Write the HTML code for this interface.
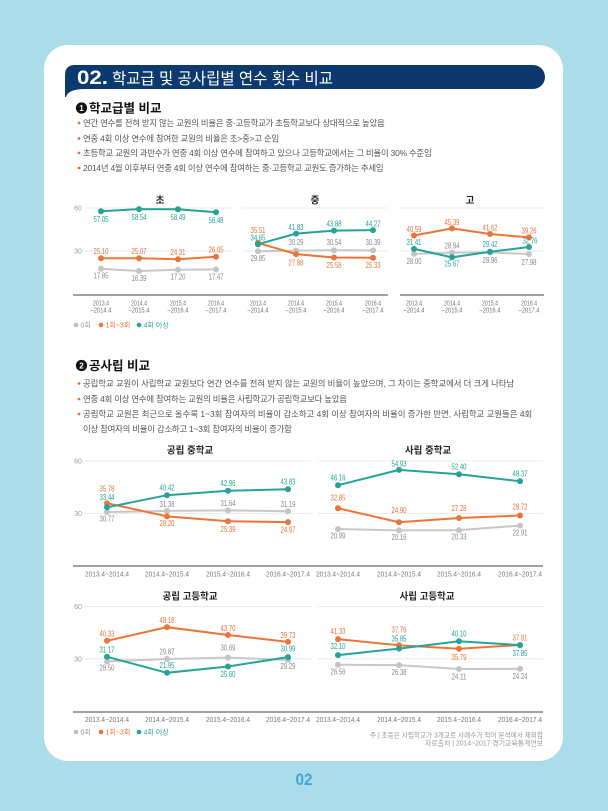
<!DOCTYPE html>
<html><head><meta charset="utf-8">
<style>
html,body{margin:0;padding:0;background:#ABDCEA;}
svg{display:block;}
text{font-family:"Liberation Sans","Noto Sans CJK KR",sans-serif;}
.lb{font-size:8px;text-anchor:middle;}
.t{fill:#26A398;}
.o{fill:#E8743B;}
.g{fill:#8a8a8a;}
.tk{font-size:7px;fill:#777;text-anchor:middle;}
.ax{font-size:7px;fill:#999;text-anchor:middle;}
.bl{font-size:8.4px;fill:#555;letter-spacing:-0.2px;}
.ct{font-size:9.5px;font-weight:bold;fill:#222;text-anchor:middle;}
.grid{stroke:#e6e6e6;stroke-width:0.8;}
.base{stroke:#6a6a6a;stroke-width:1.2;}
.lt{fill:none;stroke:#26A398;stroke-width:2;}
.lo{fill:none;stroke:#ED7437;stroke-width:2;}
.lg{fill:none;stroke:#C8C8C8;stroke-width:2;}
.dt{fill:#26A398;}
.do{fill:#ED7437;}
.dg{fill:#C4C4C4;}
</style></head>
<body>
<svg width="608" height="811" viewBox="0 0 608 811" xmlns="http://www.w3.org/2000/svg">
<rect x="0" y="0" width="608" height="811" fill="#ABDCEA"/>
<rect x="44" y="45" width="519" height="716" rx="24" ry="24" fill="#ffffff"/>

<!-- Title bar -->
<path d="M75,65 H533 A12,12 0 0 1 533,89 H85 Q68,89 66,97 L65,97 V75 Q65,65 75,65 Z" fill="#0C3A6E"/>
<text x="77" y="84" font-size="19" font-weight="bold" fill="#fff" textLength="31" lengthAdjust="spacingAndGlyphs">02.</text>
<text x="112" y="84" font-size="16" fill="#fff" textLength="221" lengthAdjust="spacingAndGlyphs">학교급 및 공사립별 연수 횟수 비교</text>

<!-- Section 1 heading -->
<circle cx="81.5" cy="108" r="5.6" fill="#111"/>
<text x="81.5" y="111" font-size="8" font-weight="bold" fill="#fff" text-anchor="middle">1</text>
<text x="89" y="112.5" font-size="12.5" font-weight="bold" fill="#111">학교급별 비교</text>

<circle cx="79" cy="123" r="1.4" fill="#E8743B"/>
<text class="bl" x="83" y="126">연간 연수를 전혀 받지 않는 교원의 비율은 중·고등학교가 초등학교보다 상대적으로 높았음</text>
<circle cx="79" cy="138.5" r="1.4" fill="#E8743B"/>
<text class="bl" x="83" y="141.5">연중 4회 이상 연수에 참여한 교원의 비율은 초&gt;중&gt;고 순임</text>
<circle cx="79" cy="153" r="1.4" fill="#E8743B"/>
<text class="bl" x="83" y="156">초등학교 교원의 과반수가 연중 4회 이상 연수에 참여하고 있으나 고등학교에서는 그 비율이 30% 수준임</text>
<circle cx="79" cy="168" r="1.4" fill="#E8743B"/>
<text class="bl" x="83" y="171">2014년 4월 이후부터 연중 4회 이상 연수에 참여하는 중·고등학교 교원도 증가하는 추세임</text>

<!-- Section 1 charts -->
<text class="ct" x="160" y="203.5">초</text>
<text class="ct" x="315" y="203.5">중</text>
<text class="ct" x="470" y="203.5">고</text>

<line class="grid" x1="85" y1="208" x2="232" y2="208"/>
<line class="grid" x1="85" y1="251" x2="232" y2="251"/>
<line class="grid" x1="243" y1="208" x2="388" y2="208"/>
<line class="grid" x1="243" y1="251" x2="388" y2="251"/>
<line class="grid" x1="400" y1="208" x2="544" y2="208"/>
<line class="grid" x1="400" y1="251" x2="544" y2="251"/>
<text class="ax" x="78" y="210.5">60</text>
<text class="ax" x="78" y="253.5">30</text>
<line class="base" x1="73" y1="295" x2="388" y2="295"/>
<line class="base" x1="400" y1="295" x2="544" y2="295"/>

<!-- P1 -->
<polyline class="lg" points="101,268.8 139,271.0 178,269.8 216,269.4"/>
<polyline class="lo" points="101,258.2 139,258.2 178,259.3 216,256.8"/>
<polyline class="lt" points="101,211.3 139,209.1 178,209.2 216,212.2"/>
<g class="dg"><circle cx="101" cy="268.8" r="3"/><circle cx="139" cy="271.0" r="3"/><circle cx="178" cy="269.8" r="3"/><circle cx="216" cy="269.4" r="3"/></g>
<g class="do"><circle cx="101" cy="258.2" r="3"/><circle cx="139" cy="258.2" r="3"/><circle cx="178" cy="259.3" r="3"/><circle cx="216" cy="256.8" r="3"/></g>
<g class="dt"><circle cx="101" cy="211.3" r="3"/><circle cx="139" cy="209.1" r="3"/><circle cx="178" cy="209.2" r="3"/><circle cx="216" cy="212.2" r="3"/></g>
<text class="lb t" x="101" y="222.2" textLength="15" lengthAdjust="spacingAndGlyphs">57.05</text>
<text class="lb t" x="139" y="220.0" textLength="15" lengthAdjust="spacingAndGlyphs">58.54</text>
<text class="lb t" x="178" y="220.1" textLength="15" lengthAdjust="spacingAndGlyphs">58.49</text>
<text class="lb t" x="216" y="223.1" textLength="15" lengthAdjust="spacingAndGlyphs">56.48</text>
<text class="lb o" x="101" y="254.1" textLength="15" lengthAdjust="spacingAndGlyphs">25.10</text>
<text class="lb o" x="139" y="254.1" textLength="15" lengthAdjust="spacingAndGlyphs">25.07</text>
<text class="lb o" x="178" y="255.2" textLength="15" lengthAdjust="spacingAndGlyphs">24.31</text>
<text class="lb o" x="216" y="252.7" textLength="15" lengthAdjust="spacingAndGlyphs">26.05</text>
<text class="lb g" x="101" y="278.7" textLength="15" lengthAdjust="spacingAndGlyphs">17.85</text>
<text class="lb g" x="139" y="280.9" textLength="15" lengthAdjust="spacingAndGlyphs">16.39</text>
<text class="lb g" x="178" y="279.7" textLength="15" lengthAdjust="spacingAndGlyphs">17.20</text>
<text class="lb g" x="216" y="279.3" textLength="15" lengthAdjust="spacingAndGlyphs">17.47</text>

<!-- P2 -->
<polyline class="lg" points="258,251.2 296,250.6 334,250.2 373,250.4"/>
<polyline class="lo" points="258,242.9 296,254.1 334,257.5 373,257.8"/>
<polyline class="lt" points="258,244.2 296,233.6 334,230.6 373,230.1"/>
<g class="dg"><circle cx="258" cy="251.2" r="3"/><circle cx="296" cy="250.6" r="3"/><circle cx="334" cy="250.2" r="3"/><circle cx="373" cy="250.4" r="3"/></g>
<g class="do"><circle cx="258" cy="242.9" r="3"/><circle cx="296" cy="254.1" r="3"/><circle cx="334" cy="257.5" r="3"/><circle cx="373" cy="257.8" r="3"/></g>
<g class="dt"><circle cx="258" cy="244.2" r="3"/><circle cx="296" cy="233.6" r="3"/><circle cx="334" cy="230.6" r="3"/><circle cx="373" cy="230.1" r="3"/></g>
<text class="lb o" x="258" y="232.9" textLength="15" lengthAdjust="spacingAndGlyphs">35.51</text>
<text class="lb t" x="258" y="240.4" textLength="15" lengthAdjust="spacingAndGlyphs">34.65</text>
<text class="lb g" x="258" y="260.9" textLength="15" lengthAdjust="spacingAndGlyphs">29.85</text>
<text class="lb t" x="296" y="229.9" textLength="15" lengthAdjust="spacingAndGlyphs">41.83</text>
<text class="lb g" x="296" y="244.9" textLength="15" lengthAdjust="spacingAndGlyphs">30.29</text>
<text class="lb o" x="296" y="265.4" textLength="15" lengthAdjust="spacingAndGlyphs">27.88</text>
<text class="lb t" x="334" y="226.4" textLength="15" lengthAdjust="spacingAndGlyphs">43.88</text>
<text class="lb g" x="334" y="244.9" textLength="15" lengthAdjust="spacingAndGlyphs">30.54</text>
<text class="lb o" x="334" y="267.9" textLength="15" lengthAdjust="spacingAndGlyphs">25.58</text>
<text class="lb t" x="373" y="226.4" textLength="15" lengthAdjust="spacingAndGlyphs">44.27</text>
<text class="lb g" x="373" y="244.9" textLength="15" lengthAdjust="spacingAndGlyphs">30.39</text>
<text class="lb o" x="373" y="267.9" textLength="15" lengthAdjust="spacingAndGlyphs">25.33</text>

<!-- P3 -->
<polyline class="lg" points="414,253.9 452,252.6 490,252.5 529,254.0"/>
<polyline class="lo" points="414,235.5 452,228.4 490,234.0 529,237.4"/>
<polyline class="lt" points="414,248.9 452,257.3 490,251.8 529,247.0"/>
<g class="dg"><circle cx="414" cy="253.9" r="3"/><circle cx="452" cy="252.6" r="3"/><circle cx="490" cy="252.5" r="3"/><circle cx="529" cy="254.0" r="3"/></g>
<g class="do"><circle cx="414" cy="235.5" r="3"/><circle cx="452" cy="228.4" r="3"/><circle cx="490" cy="234.0" r="3"/><circle cx="529" cy="237.4" r="3"/></g>
<g class="dt"><circle cx="414" cy="248.9" r="3"/><circle cx="452" cy="257.3" r="3"/><circle cx="490" cy="251.8" r="3"/><circle cx="529" cy="247.0" r="3"/></g>
<text class="lb o" x="414" y="231.9" textLength="15" lengthAdjust="spacingAndGlyphs">40.59</text>
<text class="lb o" x="452" y="224.8" textLength="15" lengthAdjust="spacingAndGlyphs">45.39</text>
<text class="lb o" x="490" y="230.4" textLength="15" lengthAdjust="spacingAndGlyphs">41.62</text>
<text class="lb o" x="529" y="233.3" textLength="15" lengthAdjust="spacingAndGlyphs">39.26</text>
<text class="lb t" x="414" y="244.9" textLength="15" lengthAdjust="spacingAndGlyphs">31.41</text>
<text class="lb g" x="414" y="263.9" textLength="15" lengthAdjust="spacingAndGlyphs">28.00</text>
<text class="lb g" x="452" y="248.4" textLength="15" lengthAdjust="spacingAndGlyphs">28.94</text>
<text class="lb t" x="452" y="266.4" textLength="15" lengthAdjust="spacingAndGlyphs">25.67</text>
<text class="lb t" x="490" y="246.9" textLength="15" lengthAdjust="spacingAndGlyphs">29.42</text>
<text class="lb g" x="490" y="262.9" textLength="15" lengthAdjust="spacingAndGlyphs">28.96</text>
<text class="lb t" x="530" y="243.4" textLength="15" lengthAdjust="spacingAndGlyphs">32.76</text>
<text class="lb g" x="529" y="264.9" textLength="15" lengthAdjust="spacingAndGlyphs">27.98</text>

<!-- Section 1 ticks -->
<g class="tk">
<text x="101" y="305.5" textLength="16" lengthAdjust="spacingAndGlyphs">2013.4</text><text x="101" y="312.5" textLength="21" lengthAdjust="spacingAndGlyphs">–2014.4</text>
<text x="139" y="305.5" textLength="16" lengthAdjust="spacingAndGlyphs">2014.4</text><text x="139" y="312.5" textLength="21" lengthAdjust="spacingAndGlyphs">–2015.4</text>
<text x="178" y="305.5" textLength="16" lengthAdjust="spacingAndGlyphs">2015.4</text><text x="178" y="312.5" textLength="21" lengthAdjust="spacingAndGlyphs">–2016.4</text>
<text x="216" y="305.5" textLength="16" lengthAdjust="spacingAndGlyphs">2016.4</text><text x="216" y="312.5" textLength="21" lengthAdjust="spacingAndGlyphs">–2017.4</text>
<text x="258" y="305.5" textLength="16" lengthAdjust="spacingAndGlyphs">2013.4</text><text x="258" y="312.5" textLength="21" lengthAdjust="spacingAndGlyphs">–2014.4</text>
<text x="296" y="305.5" textLength="16" lengthAdjust="spacingAndGlyphs">2014.4</text><text x="296" y="312.5" textLength="21" lengthAdjust="spacingAndGlyphs">–2015.4</text>
<text x="334" y="305.5" textLength="16" lengthAdjust="spacingAndGlyphs">2015.4</text><text x="334" y="312.5" textLength="21" lengthAdjust="spacingAndGlyphs">–2016.4</text>
<text x="373" y="305.5" textLength="16" lengthAdjust="spacingAndGlyphs">2016.4</text><text x="373" y="312.5" textLength="21" lengthAdjust="spacingAndGlyphs">–2017.4</text>
<text x="414" y="305.5" textLength="16" lengthAdjust="spacingAndGlyphs">2013.4</text><text x="414" y="312.5" textLength="21" lengthAdjust="spacingAndGlyphs">–2014.4</text>
<text x="452" y="305.5" textLength="16" lengthAdjust="spacingAndGlyphs">2014.4</text><text x="452" y="312.5" textLength="21" lengthAdjust="spacingAndGlyphs">–2015.4</text>
<text x="490" y="305.5" textLength="16" lengthAdjust="spacingAndGlyphs">2015.4</text><text x="490" y="312.5" textLength="21" lengthAdjust="spacingAndGlyphs">–2016.4</text>
<text x="529" y="305.5" textLength="16" lengthAdjust="spacingAndGlyphs">2016.4</text><text x="529" y="312.5" textLength="21" lengthAdjust="spacingAndGlyphs">–2017.4</text>
</g>

<!-- Legend 1 -->
<circle cx="76" cy="325" r="2.3" fill="#bdbdbd"/>
<text x="80.5" y="327.5" font-size="7" fill="#999">0회</text>
<circle cx="101" cy="325" r="2.3" fill="#ED7437"/>
<text x="105.5" y="327.5" font-size="7" fill="#E8743B">1회~3회</text>
<circle cx="139" cy="325" r="2.3" fill="#26A398"/>
<text x="143.5" y="327.5" font-size="7" fill="#26A398">4회 이상</text>

<!-- Section 2 heading -->
<circle cx="81.5" cy="365.5" r="5.6" fill="#111"/>
<text x="81.5" y="368.5" font-size="8" font-weight="bold" fill="#fff" text-anchor="middle">2</text>
<text x="89" y="370" font-size="12.5" font-weight="bold" fill="#111">공사립 비교</text>

<circle cx="79" cy="383.5" r="1.4" fill="#E8743B"/>
<text class="bl" x="83" y="386.5" textLength="431" lengthAdjust="spacing">공립학교 교원이 사립학교 교원보다 연간 연수를 전혀 받지 않는 교원의 비율이 높았으며, 그 차이는 중학교에서 더 크게 나타남</text>
<circle cx="79" cy="399" r="1.4" fill="#E8743B"/>
<text class="bl" x="83" y="402">연중 4회 이상 연수에 참여하는 교원의 비율은 사립학교가 공립학교보다 높았음</text>
<circle cx="79" cy="414" r="1.4" fill="#E8743B"/>
<text class="bl" x="83" y="417" textLength="449" lengthAdjust="spacing">공립학교 교원은 최근으로 올수록 1~3회 참여자의 비율이 감소하고 4회 이상 참여자의 비율이 증가한 반면, 사립학교 교원들은 4회</text>
<text class="bl" x="83" y="432">이상 참여자의 비율이 감소하고 1~3회 참여자의 비율이 증가함</text>

<!-- Section 2 top row -->
<text class="ct" x="190" y="453.5">공립 중학교</text>
<text class="ct" x="428" y="453.5">사립 중학교</text>
<line class="grid" x1="85" y1="461" x2="311" y2="461"/>
<line class="grid" x1="85" y1="513.3" x2="311" y2="513.3"/>
<line class="grid" x1="318" y1="461" x2="543" y2="461"/>
<line class="grid" x1="318" y1="513.3" x2="543" y2="513.3"/>
<text class="ax" x="78" y="463.5">60</text>
<text class="ax" x="78" y="515.8">30</text>
<line class="base" x1="73" y1="566" x2="543" y2="566"/>

<!-- TL -->
<polyline class="lg" points="107,512.0 167,510.9 228,510.4 288,511.2"/>
<polyline class="lo" points="107,503.2 167,516.4 228,521.3 288,522.1"/>
<polyline class="lt" points="107,507.3 167,495.2 228,490.8 288,489.2"/>
<g class="dg"><circle cx="107" cy="512.0" r="3"/><circle cx="167" cy="510.9" r="3"/><circle cx="228" cy="510.4" r="3"/><circle cx="288" cy="511.2" r="3"/></g>
<g class="do"><circle cx="107" cy="503.2" r="3"/><circle cx="167" cy="516.4" r="3"/><circle cx="228" cy="521.3" r="3"/><circle cx="288" cy="522.1" r="3"/></g>
<g class="dt"><circle cx="107" cy="507.3" r="3"/><circle cx="167" cy="495.2" r="3"/><circle cx="228" cy="490.8" r="3"/><circle cx="288" cy="489.2" r="3"/></g>
<text class="lb o" x="107" y="491.4" textLength="15" lengthAdjust="spacingAndGlyphs">35.78</text>
<text class="lb t" x="107" y="499.9" textLength="15" lengthAdjust="spacingAndGlyphs">33.44</text>
<text class="lb g" x="107" y="521.4" textLength="15" lengthAdjust="spacingAndGlyphs">30.77</text>
<text class="lb t" x="167" y="490.4" textLength="15" lengthAdjust="spacingAndGlyphs">40.42</text>
<text class="lb g" x="167" y="506.9" textLength="15" lengthAdjust="spacingAndGlyphs">31.38</text>
<text class="lb o" x="167" y="525.9" textLength="15" lengthAdjust="spacingAndGlyphs">28.20</text>
<text class="lb t" x="228" y="485.9" textLength="15" lengthAdjust="spacingAndGlyphs">42.96</text>
<text class="lb g" x="228" y="505.9" textLength="15" lengthAdjust="spacingAndGlyphs">31.64</text>
<text class="lb o" x="228" y="531.9" textLength="15" lengthAdjust="spacingAndGlyphs">25.39</text>
<text class="lb t" x="288" y="484.4" textLength="15" lengthAdjust="spacingAndGlyphs">43.83</text>
<text class="lb g" x="288" y="506.9" textLength="15" lengthAdjust="spacingAndGlyphs">31.19</text>
<text class="lb o" x="288" y="532.4" textLength="15" lengthAdjust="spacingAndGlyphs">24.97</text>

<!-- TR -->
<polyline class="lg" points="338,529.0 399,530.4 459,530.1 520,525.6"/>
<polyline class="lo" points="338,508.3 399,522.2 459,518.0 520,515.5"/>
<polyline class="lt" points="338,485.2 399,469.9 459,474.3 520,481.3"/>
<g class="dg"><circle cx="338" cy="529.0" r="3"/><circle cx="399" cy="530.4" r="3"/><circle cx="459" cy="530.1" r="3"/><circle cx="520" cy="525.6" r="3"/></g>
<g class="do"><circle cx="338" cy="508.3" r="3"/><circle cx="399" cy="522.2" r="3"/><circle cx="459" cy="518.0" r="3"/><circle cx="520" cy="515.5" r="3"/></g>
<g class="dt"><circle cx="338" cy="485.2" r="3"/><circle cx="399" cy="469.9" r="3"/><circle cx="459" cy="474.3" r="3"/><circle cx="520" cy="481.3" r="3"/></g>
<text class="lb t" x="338" y="480.4" textLength="15" lengthAdjust="spacingAndGlyphs">46.16</text>
<text class="lb t" x="399" y="466.4" textLength="15" lengthAdjust="spacingAndGlyphs">54.93</text>
<text class="lb t" x="459" y="469.6" textLength="15" lengthAdjust="spacingAndGlyphs">52.40</text>
<text class="lb t" x="520" y="476.4" textLength="15" lengthAdjust="spacingAndGlyphs">48.37</text>
<text class="lb o" x="338" y="500.4" textLength="15" lengthAdjust="spacingAndGlyphs">32.85</text>
<text class="lb o" x="399" y="512.9" textLength="15" lengthAdjust="spacingAndGlyphs">24.90</text>
<text class="lb o" x="459" y="510.9" textLength="15" lengthAdjust="spacingAndGlyphs">27.28</text>
<text class="lb o" x="520" y="509.4" textLength="15" lengthAdjust="spacingAndGlyphs">28.72</text>
<text class="lb g" x="338" y="538.4" textLength="15" lengthAdjust="spacingAndGlyphs">20.99</text>
<text class="lb g" x="399" y="539.9" textLength="15" lengthAdjust="spacingAndGlyphs">20.16</text>
<text class="lb g" x="459" y="539.6" textLength="15" lengthAdjust="spacingAndGlyphs">20.33</text>
<text class="lb g" x="520" y="535.4" textLength="15" lengthAdjust="spacingAndGlyphs">22.91</text>

<g class="tk">
<text x="107" y="576.5" textLength="44" lengthAdjust="spacingAndGlyphs">2013.4~2014.4</text>
<text x="167" y="576.5" textLength="44" lengthAdjust="spacingAndGlyphs">2014.4~2015.4</text>
<text x="228" y="576.5" textLength="44" lengthAdjust="spacingAndGlyphs">2015.4~2016.4</text>
<text x="288" y="576.5" textLength="44" lengthAdjust="spacingAndGlyphs">2016.4~2017.4</text>
<text x="338" y="576.5" textLength="44" lengthAdjust="spacingAndGlyphs">2013.4~2014.4</text>
<text x="399" y="576.5" textLength="44" lengthAdjust="spacingAndGlyphs">2014.4~2015.4</text>
<text x="459" y="576.5" textLength="44" lengthAdjust="spacingAndGlyphs">2015.4~2016.4</text>
<text x="520" y="576.5" textLength="44" lengthAdjust="spacingAndGlyphs">2016.4~2017.4</text>
</g>

<!-- Section 2 bottom row -->
<text class="ct" x="190" y="599.5">공립 고등학교</text>
<text class="ct" x="427" y="599.5">사립 고등학교</text>
<line class="grid" x1="85" y1="606.6" x2="311" y2="606.6"/>
<line class="grid" x1="85" y1="658.8" x2="311" y2="658.8"/>
<line class="grid" x1="318" y1="606.6" x2="543" y2="606.6"/>
<line class="grid" x1="318" y1="658.8" x2="543" y2="658.8"/>
<text class="ax" x="78" y="609">60</text>
<text class="ax" x="78" y="661.3">30</text>
<line class="base" x1="73" y1="712" x2="543" y2="712"/>

<!-- BL -->
<polyline class="lg" points="107,661.4 167,659.0 228,657.6 288,660.0"/>
<polyline class="lo" points="107,640.8 167,627.2 228,635.0 288,641.9"/>
<polyline class="lt" points="107,656.8 167,672.8 228,666.5 288,657.1"/>
<g class="dg"><circle cx="107" cy="661.4" r="3"/><circle cx="167" cy="659.0" r="3"/><circle cx="228" cy="657.6" r="3"/><circle cx="288" cy="660.0" r="3"/></g>
<g class="do"><circle cx="107" cy="640.8" r="3"/><circle cx="167" cy="627.2" r="3"/><circle cx="228" cy="635.0" r="3"/><circle cx="288" cy="641.9" r="3"/></g>
<g class="dt"><circle cx="107" cy="656.8" r="3"/><circle cx="167" cy="672.8" r="3"/><circle cx="228" cy="666.5" r="3"/><circle cx="288" cy="657.1" r="3"/></g>
<text class="lb o" x="107" y="636.7" textLength="15" lengthAdjust="spacingAndGlyphs">40.33</text>
<text class="lb o" x="167" y="623.1" textLength="15" lengthAdjust="spacingAndGlyphs">48.18</text>
<text class="lb o" x="228" y="630.9" textLength="15" lengthAdjust="spacingAndGlyphs">43.70</text>
<text class="lb o" x="288" y="637.8" textLength="15" lengthAdjust="spacingAndGlyphs">39.73</text>
<text class="lb t" x="107" y="652.4" textLength="15" lengthAdjust="spacingAndGlyphs">31.17</text>
<text class="lb t" x="167" y="667.9" textLength="15" lengthAdjust="spacingAndGlyphs">21.95</text>
<text class="lb t" x="228" y="676.9" textLength="15" lengthAdjust="spacingAndGlyphs">25.60</text>
<text class="lb t" x="288" y="651.4" textLength="15" lengthAdjust="spacingAndGlyphs">30.99</text>
<text class="lb g" x="107" y="670.4" textLength="15" lengthAdjust="spacingAndGlyphs">28.50</text>
<text class="lb g" x="167" y="654.4" textLength="15" lengthAdjust="spacingAndGlyphs">29.87</text>
<text class="lb g" x="228" y="650.4" textLength="15" lengthAdjust="spacingAndGlyphs">30.69</text>
<text class="lb g" x="288" y="668.9" textLength="15" lengthAdjust="spacingAndGlyphs">29.29</text>

<!-- BR -->
<polyline class="lg" points="338,664.8 399,665.1 459,669.0 520,668.8"/>
<polyline class="lo" points="338,639.1 399,645.3 459,648.7 520,645.0"/>
<polyline class="lt" points="338,655.1 399,648.6 459,641.2 520,645.1"/>
<g class="dg"><circle cx="338" cy="664.8" r="3"/><circle cx="399" cy="665.1" r="3"/><circle cx="459" cy="669.0" r="3"/><circle cx="520" cy="668.8" r="3"/></g>
<g class="do"><circle cx="338" cy="639.1" r="3"/><circle cx="399" cy="645.3" r="3"/><circle cx="459" cy="648.7" r="3"/><circle cx="520" cy="645.0" r="3"/></g>
<g class="dt"><circle cx="338" cy="655.1" r="3"/><circle cx="399" cy="648.6" r="3"/><circle cx="459" cy="641.2" r="3"/><circle cx="520" cy="645.1" r="3"/></g>
<text class="lb o" x="338" y="633.9" textLength="15" lengthAdjust="spacingAndGlyphs">41.33</text>
<text class="lb t" x="338" y="648.9" textLength="15" lengthAdjust="spacingAndGlyphs">32.10</text>
<text class="lb o" x="399" y="632.4" textLength="15" lengthAdjust="spacingAndGlyphs">37.76</text>
<text class="lb t" x="399" y="641.4" textLength="15" lengthAdjust="spacingAndGlyphs">35.85</text>
<text class="lb t" x="459" y="636.4" textLength="15" lengthAdjust="spacingAndGlyphs">40.10</text>
<text class="lb o" x="459" y="659.9" textLength="15" lengthAdjust="spacingAndGlyphs">35.79</text>
<text class="lb o" x="520" y="640.4" textLength="15" lengthAdjust="spacingAndGlyphs">37.91</text>
<text class="lb t" x="520" y="655.9" textLength="15" lengthAdjust="spacingAndGlyphs">37.85</text>
<text class="lb g" x="338" y="674.4" textLength="15" lengthAdjust="spacingAndGlyphs">26.56</text>
<text class="lb g" x="399" y="674.9" textLength="15" lengthAdjust="spacingAndGlyphs">26.38</text>
<text class="lb g" x="459" y="679.4" textLength="15" lengthAdjust="spacingAndGlyphs">24.11</text>
<text class="lb g" x="520" y="678.9" textLength="15" lengthAdjust="spacingAndGlyphs">24.24</text>

<g class="tk">
<text x="107" y="722" textLength="44" lengthAdjust="spacingAndGlyphs">2013.4~2014.4</text>
<text x="167" y="722" textLength="44" lengthAdjust="spacingAndGlyphs">2014.4~2015.4</text>
<text x="228" y="722" textLength="44" lengthAdjust="spacingAndGlyphs">2015.4~2016.4</text>
<text x="288" y="722" textLength="44" lengthAdjust="spacingAndGlyphs">2016.4~2017.4</text>
<text x="338" y="722" textLength="44" lengthAdjust="spacingAndGlyphs">2013.4~2014.4</text>
<text x="399" y="722" textLength="44" lengthAdjust="spacingAndGlyphs">2014.4~2015.4</text>
<text x="459" y="722" textLength="44" lengthAdjust="spacingAndGlyphs">2015.4~2016.4</text>
<text x="520" y="722" textLength="44" lengthAdjust="spacingAndGlyphs">2016.4~2017.4</text>
</g>

<!-- Legend 2 -->
<circle cx="76" cy="732" r="2.3" fill="#bdbdbd"/>
<text x="80.5" y="734.5" font-size="7" fill="#999">0회</text>
<circle cx="101" cy="732" r="2.3" fill="#ED7437"/>
<text x="105.5" y="734.5" font-size="7" fill="#E8743B">1회~3회</text>
<circle cx="139" cy="732" r="2.3" fill="#26A398"/>
<text x="143.5" y="734.5" font-size="7" fill="#26A398">4회 이상</text>

<!-- Footnotes -->
<text x="543" y="737.5" font-size="7" fill="#999" text-anchor="end" textLength="173" lengthAdjust="spacingAndGlyphs">주 | 초등은 사립학교가 3개교로 사례수가 적어 분석에서 제외함</text>
<text x="543" y="745.5" font-size="7" fill="#999" text-anchor="end" textLength="118" lengthAdjust="spacingAndGlyphs">자료출처 | 2014~2017 경기교육통계연보</text>

<!-- Page number -->
<text x="304" y="785" font-size="17" font-weight="bold" fill="#45A5D2" text-anchor="middle" textLength="17" lengthAdjust="spacingAndGlyphs">02</text>
</svg>
</body></html>
